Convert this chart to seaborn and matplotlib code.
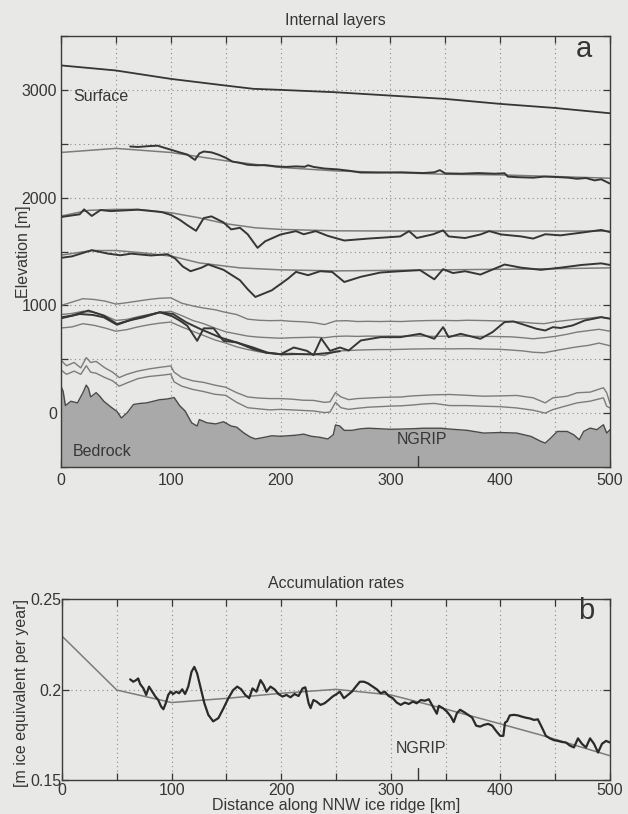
import numpy as np
import pandas as pd
import matplotlib
matplotlib.use("Agg")
import matplotlib.pyplot as plt
import seaborn as sns

# ---------------- data: panel a (elevation in m, distance in km) ----------------
surf_x = [0, 50, 100, 150, 175, 200, 250, 300, 350, 400, 450, 500]
surf_y = [3227, 3180, 3102, 3040, 3010, 3000, 2978, 2947, 2916, 2870, 2832, 2783]

l2_model_x = [0, 50, 100, 150, 200, 250, 300, 350, 400, 450, 500]
l2_model_y = [2419, 2457, 2419, 2342, 2280, 2248, 2233, 2217, 2211, 2196, 2180]
l2_obs_x = [63, 70, 80, 88, 95, 100, 108, 115, 122, 126, 130, 137, 143, 150, 156, 164, 170, 178, 186, 196, 205,
            214, 222, 225, 230, 240, 252, 262, 273, 290, 310, 330, 340, 345, 350, 365, 380, 395, 404, 407, 415,
            430, 440, 450, 462, 470, 478, 486, 492, 500]
l2_obs_y = [2475, 2470, 2478, 2482, 2460, 2445, 2420, 2400, 2350, 2410, 2428, 2420, 2400, 2370, 2335, 2320,
            2305, 2300, 2302, 2290, 2285, 2290, 2286, 2300, 2285, 2270, 2262, 2250, 2233, 2232, 2235, 2228,
            2235, 2255, 2225, 2222, 2228, 2222, 2226, 2195, 2190, 2185, 2195, 2192, 2185, 2175, 2182, 2160,
            2170, 2130]

l3_model_x = [0, 25, 50, 70, 100, 125, 150, 177, 200, 250, 300, 350, 400, 450, 500]
l3_model_y = [1829, 1882, 1891, 1891, 1860, 1814, 1758, 1720, 1705, 1692, 1690, 1690, 1690, 1690, 1689]
l3_obs_x = [0, 10, 17, 21, 28, 36, 45, 55, 70, 83, 92, 100, 108, 115, 123, 130, 137, 148, 155, 163, 170, 179,
            186, 200, 214, 221, 232, 243, 258, 280, 295, 309, 317, 324, 339, 348, 353, 368, 382, 390, 401, 419,
            430, 441, 455, 474, 492, 500]
l3_obs_y = [1820, 1835, 1845, 1891, 1830, 1885, 1875, 1880, 1888, 1875, 1865, 1840, 1795, 1745, 1692, 1810,
            1826, 1770, 1705, 1720, 1660, 1534, 1595, 1658, 1689, 1660, 1689, 1645, 1602, 1620, 1630, 1640,
            1689, 1625, 1660, 1696, 1640, 1625, 1658, 1689, 1658, 1640, 1620, 1660, 1650, 1675, 1700, 1680]

l4_model_x = [0, 28, 50, 72, 101, 126, 163, 199, 250, 300, 350, 400, 450, 500]
l4_model_y = [1466, 1509, 1509, 1490, 1456, 1394, 1348, 1330, 1320, 1325, 1330, 1335, 1340, 1348]
l4_obs_x = [0, 10, 28, 43, 54, 64, 82, 97, 104, 111, 118, 128, 134, 148, 163, 170, 177, 192, 207, 214, 225, 236,
            247, 258, 273, 291, 309, 327, 340, 348, 357, 368, 382, 404, 419, 437, 455, 474, 492, 500]
l4_obs_y = [1441, 1455, 1512, 1480, 1465, 1480, 1463, 1475, 1435, 1360, 1317, 1350, 1380, 1330, 1233, 1150,
            1078, 1140, 1250, 1311, 1280, 1317, 1310, 1217, 1265, 1305, 1317, 1327, 1242, 1336, 1300, 1317,
            1286, 1379, 1350, 1330, 1350, 1375, 1390, 1375]

# lower internal layers (model, grey)
la_x = [0, 10, 20, 30, 40, 50, 60, 70, 80, 90, 100, 110, 120, 130, 140, 150, 160, 170, 180, 190, 200, 210, 220,
        230, 240, 250, 260, 270, 280, 290, 300, 310, 320, 330, 340, 350, 360, 370, 380, 390, 400, 410, 420, 430,
        440, 450, 460, 470, 480, 490, 500]
la_y = [1000, 1030, 1062, 1055, 1040, 1012, 1025, 1040, 1055, 1066, 1070, 1020, 995, 975, 960, 935, 915, 872,
        862, 858, 860, 852, 848, 840, 822, 855, 858, 850, 852, 850, 852, 850, 855, 858, 860, 860, 858, 862, 860,
        858, 855, 850, 845, 835, 830, 848, 860, 872, 880, 892, 878]
lb_y = [915, 925, 945, 935, 905, 860, 870, 895, 915, 935, 945, 905, 860, 830, 790, 755, 735, 715, 705, 700, 695,
        700, 702, 705, 700, 712, 715, 712, 715, 714, 715, 714, 716, 715, 712, 714, 715, 714, 712, 712, 710, 708,
        700, 690, 700, 712, 730, 752, 765, 778, 760]
lc_y = [790, 800, 830, 815, 790, 760, 775, 800, 820, 835, 845, 800, 760, 720, 680, 650, 615, 590, 570, 555, 550,
        555, 548, 545, 535, 575, 580, 585, 588, 590, 590, 592, 595, 596, 598, 596, 597, 598, 596, 594, 592, 585,
        578, 565, 560, 580, 598, 615, 628, 650, 625]

# observed deeper layers (dark)
d1_x = [0, 10, 25, 39, 51, 62, 75, 90, 101, 108, 115, 124, 130, 139, 148, 160, 175, 188, 200, 212, 224, 230,
        237, 245, 254, 262, 273, 291, 309, 327, 340, 348, 353, 364, 382, 393, 404, 412, 419, 433, 441, 448, 455,
        466, 477, 485, 492, 500]
d1_y = [889, 905, 952, 905, 827, 860, 889, 936, 900, 860, 811, 671, 787, 787, 671, 656, 609, 562, 547, 609, 578,
        538, 693, 578, 609, 581, 674, 705, 705, 736, 690, 798, 705, 736, 690, 752, 845, 851, 829, 783, 767, 798,
        790, 814, 860, 876, 891, 876]
d2_x = [0, 17, 29, 39, 51, 66, 90, 102, 114, 127, 145, 160, 175, 187, 201, 215, 230, 245, 254]
d2_y = [880, 920, 911, 889, 820, 874, 936, 920, 843, 780, 702, 656, 594, 560, 545, 548, 545, 560, 575]

le_x = [0, 5, 12, 18, 23, 27, 32, 40, 47, 53, 60, 70, 80, 90, 100, 103, 110, 120, 130, 140, 150, 160, 170, 180,
        190, 200, 210, 220, 230, 240, 245, 250, 255, 262, 270, 280, 290, 300, 310, 320, 330, 340, 354, 370, 385,
        400, 415, 430, 441, 448, 461, 470, 482, 494, 497, 500]
le_y = [490, 440, 470, 420, 515, 470, 480, 420, 380, 330, 360, 390, 410, 425, 438, 380, 330, 300, 285, 260, 240,
        190, 150, 140, 135, 135, 130, 120, 118, 100, 105, 190, 150, 125, 135, 140, 145, 148, 150, 160, 165, 170,
        173, 165, 157, 160, 164, 142, 95, 142, 157, 189, 195, 236, 189, 90]
lf_y = [400, 360, 390, 360, 440, 380, 370, 330, 300, 250, 280, 320, 340, 350, 362, 290, 250, 220, 200, 175, 165,
        100, 50, 40, 30, 35, 30, 25, 20, 5, 10, 100, 50, 35, 45, 55, 60, 65, 68, 75, 85, 90, 70, 70, 64, 60, 48,
        27, 0, 33, 70, 95, 111, 142, 64, 48]

bed_x = [0, 2, 4, 9, 13, 15, 20, 23, 25, 27, 32, 35, 39, 45, 51, 55, 60, 66, 72, 78, 84, 90, 96, 101, 103, 108,
         113, 119, 124, 126, 133, 141, 148, 155, 160, 166, 172, 177, 185, 192, 200, 207, 214, 221, 228, 236, 243,
         248, 250, 254, 258, 265, 273, 280, 290, 300, 309, 320, 330, 346, 354, 370, 385, 400, 415, 428, 437, 441,
         446, 452, 461, 467, 472, 476, 482, 488, 494, 497, 500]
bed_y = [250, 200, 70, 110, 100, 95, 190, 260, 230, 150, 190, 160, 110, 60, 15, -45, 0, 80, 90, 95, 110, 125, 130,
         140, 145, 70, 20, -90, -120, -60, -90, -100, -80, -120, -130, -180, -220, -240, -225, -210, -215, -210,
         -205, -195, -215, -225, -240, -200, -110, -120, -160, -160, -145, -140, -145, -150, -148, -145, -140,
         -140, -148, -160, -185, -180, -185, -216, -262, -278, -232, -170, -170, -201, -247, -170, -139, -154,
         -108, -185, -154]

ngrip_km = 325

# ---------------- data: panel b (accumulation, m ice eq. per year) ----------------
acc_model_x = [0, 50, 100, 150, 200, 250, 300, 350, 400, 436, 450, 500]
acc_model_y = [0.2295, 0.1997, 0.1928, 0.1951, 0.1979, 0.2001, 0.1970, 0.1892, 0.1810, 0.1750, 0.1725, 0.1634]

acc_obs_x = [62.2, 65.0, 67.7, 69.5, 71.3, 74.3, 76.8, 79.4, 82.3, 85.2, 87.8, 90.4, 92.5, 94.7, 96.9, 99.1,
             101.3, 104.3, 106.8, 109.7, 112.3, 115.2, 118.2, 120.7, 123.3, 126.2, 129.9, 133.5, 137.9, 142.7,
             147.4, 151.8, 156.2, 159.9, 163.5, 167.2, 170.8, 173.8, 177.4, 181.1, 184.0, 186.6, 190.2, 193.9,
             197.5, 201.2, 204.8, 208.5, 212.2, 215.8, 219.5, 222.0, 225.0, 226.8, 229.4, 232.3, 235.9, 239.6,
             243.3, 246.9, 250.6, 253.5, 257.2, 260.8, 264.5, 268.1, 271.8, 275.5, 279.1, 282.8, 287.2, 290.8,
             294.5, 298.1, 301.8, 305.4, 309.1, 312.8, 316.4, 320.1, 323.7, 327.4, 331.0, 334.7, 338.4, 342.0,
             343.8, 347.5, 351.2, 354.8, 357.4, 360.3, 363.2, 366.9, 370.6, 374.2, 377.9, 381.5, 385.2, 388.9,
             392.5, 396.2, 399.8, 402.7, 404.2, 406.0, 408.6, 412.3, 415.9, 419.6, 423.3, 426.9, 430.6, 434.2,
             437.9, 441.5, 445.2, 448.8, 452.5, 456.2, 459.8, 463.5, 467.1, 470.8, 474.4, 478.1, 481.8, 485.4,
             489.1, 492.7, 496.4, 500.0]
acc_obs_y = [0.2056, 0.2043, 0.2052, 0.2061, 0.2030, 0.2006, 0.1970, 0.2016, 0.1988, 0.1961, 0.1942, 0.1906,
             0.1891, 0.1924, 0.1970, 0.1988, 0.1975, 0.1988, 0.1979, 0.2001, 0.1975, 0.2016, 0.2098, 0.2125,
             0.2089, 0.2016, 0.1924, 0.1860, 0.1824, 0.1842, 0.1897, 0.1952, 0.1997, 0.2016, 0.2001, 0.1970,
             0.1952, 0.2006, 0.1988, 0.2052, 0.2025, 0.1988, 0.2016, 0.2001, 0.1975, 0.1961, 0.1970, 0.1957,
             0.1975, 0.1964, 0.2006, 0.2012, 0.1924, 0.1897, 0.1942, 0.1933, 0.1915, 0.1924, 0.1942, 0.1961,
             0.1975, 0.1988, 0.1952, 0.1970, 0.1988, 0.2016, 0.2043, 0.2043, 0.2034, 0.2019, 0.2001, 0.1979,
             0.1988, 0.1964, 0.1952, 0.1928, 0.1915, 0.1928, 0.1920, 0.1933, 0.1924, 0.1942, 0.1938, 0.1946,
             0.1906, 0.1866, 0.1910, 0.1897, 0.1878, 0.1850, 0.1820, 0.1869, 0.1888, 0.1875, 0.1860, 0.1845,
             0.1800, 0.1795, 0.1805, 0.1810, 0.1800, 0.1770, 0.1744, 0.1744, 0.1817, 0.1824, 0.1857, 0.1860,
             0.1857, 0.1850, 0.1844, 0.1840, 0.1832, 0.1835, 0.1790, 0.1744, 0.1730, 0.1720, 0.1716, 0.1710,
             0.1707, 0.1690, 0.1680, 0.1730, 0.1700, 0.1680, 0.1730, 0.1700, 0.1652, 0.1700, 0.1716, 0.1707]

# ---------------- style ----------------
BG = "#e8e8e6"
DARK = "#363636"
GREY = "#7c7c7c"
sns.set_style("ticks")
plt.rcParams["font.family"] = ["Liberation Sans", "DejaVu Sans"]
plt.rcParams["text.color"] = DARK
plt.rcParams["axes.labelcolor"] = DARK
plt.rcParams["xtick.color"] = DARK
plt.rcParams["ytick.color"] = DARK

FS = 11.5
fig = plt.figure(figsize=(6.28, 8.14), dpi=100, facecolor=BG)
ax_a = fig.add_axes([61 / 628, 1 - 467 / 814, 549 / 628, 431 / 814])
ax_b = fig.add_axes([62 / 628, 1 - 780 / 814, 548 / 628, 181 / 814])


def line(ax, x, y, color, lw):
    df = pd.DataFrame({"x": x, "y": y})
    sns.lineplot(data=df, x="x", y="y", ax=ax, color=color, lw=lw, estimator=None, sort=False)


def style_axes(ax):
    ax.set_facecolor(BG)
    for s in ax.spines.values():
        s.set_color("#3c3c3c")
        s.set_linewidth(1.0)
    ax.tick_params(direction="in", top=True, right=True, length=5, width=0.9, labelsize=FS)
    ax.grid(True, linestyle=(0, (1, 3)), color="#8a8a8a", linewidth=0.8)
    ax.set_xlim(0, 500)
    xt = np.arange(0, 501, 50)
    ax.set_xticks(xt)
    ax.set_xticklabels([str(v) if v % 100 == 0 else "" for v in xt])


# ---------------- panel a ----------------
style_axes(ax_a)
ax_a.set_ylim(-500, 3500)
yt = np.arange(-500, 3501, 500)
ax_a.set_yticks(yt)
ax_a.set_yticklabels([str(v) if (v % 1000 == 0 and -500 < v < 3500) else "" for v in yt])
ax_a.tick_params(axis="x", pad=4)
ax_a.tick_params(axis="y", pad=3)

ax_a.fill_between(bed_x, bed_y, -500, color="#a9a9a9", lw=0, zorder=1)
line(ax_a, bed_x, bed_y, "#4a4a4a", 1.0)

line(ax_a, surf_x, surf_y, DARK, 1.3)
for mx, my in [(l2_model_x, l2_model_y), (l3_model_x, l3_model_y), (l4_model_x, l4_model_y)]:
    line(ax_a, mx, my, GREY, 1.1)
for yy in [la_y, lb_y, lc_y]:
    line(ax_a, la_x, yy, GREY, 1.0)
line(ax_a, le_x, le_y, GREY, 1.0)
line(ax_a, le_x, lf_y, GREY, 1.0)
for ox, oy in [(l2_obs_x, l2_obs_y), (l3_obs_x, l3_obs_y), (l4_obs_x, l4_obs_y), (d1_x, d1_y), (d2_x, d2_y)]:
    line(ax_a, ox, oy, DARK, 1.4)

ax_a.plot([ngrip_km, ngrip_km], [-500, -400], color=DARK, lw=1.0)
ax_a.text(329, -242, "NGRIP", ha="center", va="center", fontsize=FS)
ax_a.text(11, -352, "Bedrock", ha="left", va="center", fontsize=FS)
ax_a.text(11, 2935, "Surface", ha="left", va="center", fontsize=FS)
ax_a.text(476, 3378, "a", ha="center", va="center", fontsize=21)
ax_a.set_title("Internal layers", fontsize=FS, pad=8)
ax_a.set_xlabel("")
ax_a.set_ylabel("Elevation [m]", fontsize=FS)
ax_a.yaxis.set_label_coords(-0.055, 0.5)

# ---------------- panel b ----------------
style_axes(ax_b)
ax_b.set_ylim(0.15, 0.25)
ax_b.set_yticks([0.15, 0.2, 0.25])
ax_b.set_yticklabels(["0.15", "0.2", "0.25"])
ax_b.tick_params(axis="x", pad=2)
ax_b.tick_params(axis="y", pad=0.5)

line(ax_b, acc_model_x, acc_model_y, GREY, 1.1)
line(ax_b, acc_obs_x, acc_obs_y, "#2a2a2a", 1.6)
ax_b.plot([ngrip_km, ngrip_km], [0.15, 0.1565], color=DARK, lw=1.0)
ax_b.text(328, 0.1675, "NGRIP", ha="center", va="center", fontsize=FS)
ax_b.text(478, 0.2435, "b", ha="center", va="center", fontsize=21)
ax_b.set_title("Accumulation rates", fontsize=FS, pad=8)
ax_b.set_xlabel("Distance along NNW ice ridge [km]", fontsize=FS, labelpad=0)
ax_b.set_ylabel("[m ice equivalent per year]", fontsize=FS)
ax_b.yaxis.set_label_coords(-0.06, 0.48)

fig.savefig("out.png", dpi=100, facecolor=BG)
